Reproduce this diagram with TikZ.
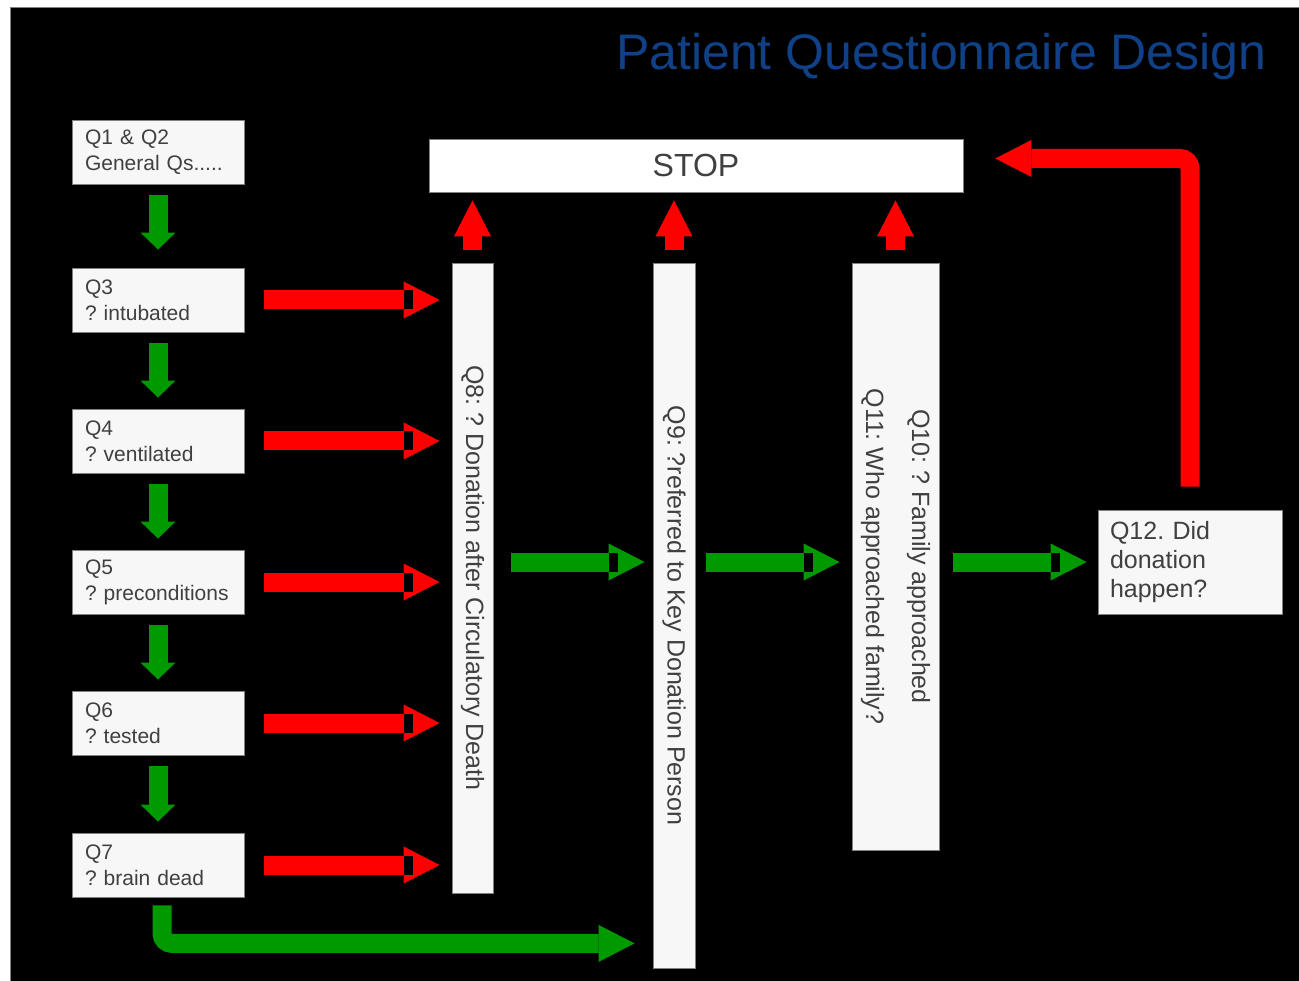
\documentclass[tikz,border=0pt]{standalone}
\usepackage{fontspec}
\setmainfont{Liberation Sans}
\usetikzlibrary{arrows.meta, decorations.markings}
\definecolor{qgray}{RGB}{64,64,64}
\definecolor{qfill}{RGB}{247,247,247}
\definecolor{qline}{RGB}{128,128,128}
\definecolor{qblue}{RGB}{16,65,135}
\definecolor{qgreen}{RGB}{0,153,0}
\definecolor{qred}{RGB}{255,0,0}
\frenchspacing
\hyphenpenalty=10000

\begin{document}
\begin{tikzpicture}[x=1pt,y=-1pt,
  qbox/.style={draw=qline, line width=0.8pt, fill=qfill, text=qgray, minimum width=172pt, minimum height=64pt, text width=146pt, inner xsep=13pt, align=left, font=\fontsize{21}{26}\selectfont},
  qbar/.style={draw=qline, line width=0.8pt, fill=qfill},
  qrot/.style={rotate=-90, text=qgray, align=center, font=\fontsize{25}{46}\selectfont},
  fat/.style={line width=19pt, -{Triangle[length=36pt,width=37pt,line width=0pt]}},
  stub/.style={line width=19pt, -{Triangle[length=17pt,width=35pt,line width=0pt]}},
  notch/.style={postaction={decorate, decoration={markings, mark=at position 1 with {\fill[black] (-36,-9.5) rectangle (-27,9.5);}}}}
]
\useasboundingbox (0,0) rectangle (1299,981);
\fill[white] (0,0) rectangle (1299,981);
\draw[qline, fill=black] (10,7) rectangle (1299,981);
\node[text=qblue, anchor=base east, font=\fontsize{50}{60}\selectfont] (title) at (1270,70) {Patient Questionnaire Design};

\node[qbox] (q1) at (158,152) {Q1 \& Q2\\General Qs.....};
\node[qbox] (q3) at (158,300) {Q3\\? intubated};
\node[qbox] (q4) at (158,441) {Q4\\? ventilated};
\node[qbox] (q5) at (158,582) {Q5\\? preconditions};
\node[qbox] (q6) at (158,723) {Q6\\? tested};
\node[qbox] (q7) at (158,865) {Q7\\? brain dead};

\node[qbar, fill=white, minimum width=534pt, minimum height=53pt, text=qgray, font=\fontsize{32}{38}\selectfont] (stop) at (696,165.5) {STOP};
\node[qbar, minimum width=41pt, minimum height=630pt] (q8) at (472.5,578) {};
\node[qrot] at (q8) {Q8: ? Donation after Circulatory Death};
\node[qbar, minimum width=42pt, minimum height=705pt] (q9) at (674,615.5) {};
\node[qrot] at (q9) {Q9: ?referred to Key Donation Person};
\node[qbar, minimum width=87pt, minimum height=587pt] (q10) at (895.5,556.5) {};
\node[qrot] at (q10) {Q10: ? Family approached\\Q11: Who approached family?};
\node[qbox, minimum width=184pt, minimum height=104pt, text width=160pt, inner xsep=12pt, font=\fontsize{25}{29}\selectfont] (q12) at (1190,562) {Q12. Did\\donation\\happen?};

\draw[qgreen, stub, shorten <=11pt, shorten >=18pt] (q1.south) -- (q3.north);
\foreach \a/\b in {q3/q4, q4/q5, q5/q6, q6/q7}
  \draw[qgreen, stub, shorten <=11pt, shorten >=11pt] (\a.south) -- (\b.north);

\foreach \a in {q3,q4,q5,q6,q7}
  \draw[qred, fat, notch] ([xshift=20pt]\a.east) -- ([xshift=-12pt]q8.west |- \a.east);

\draw[qgreen, fat, notch] ([xshift=18pt]q8.east |- q12.west) -- ([xshift=-8pt]q9.west |- q12.west);
\draw[qgreen, fat, notch] ([xshift=11pt]q9.east |- q12.west) -- ([xshift=-12pt]q10.west |- q12.west);
\draw[qgreen, fat, notch] ([xshift=14pt]q10.east |- q12.west) -- ([xshift=-11pt]q12.west);

\foreach \a in {q8,q9,q10}
  \draw[qred, fat] ([yshift=13pt]\a.north) -- ([yshift=-8pt]stop.south -| \a.north);

\draw[qred, fat, rounded corners=10pt] ([yshift=23pt]q12.north) |- ([xshift=32pt,yshift=7pt]stop.east);
\coordinate (q7turn) at ([xshift=4pt,yshift=-46pt]q7.south);
\draw[qgreen, fat, rounded corners=10pt] ([xshift=4pt,yshift=-8pt]q7.south) |- ([xshift=-18pt]q9.west |- q7turn);
\end{tikzpicture}
\end{document}
